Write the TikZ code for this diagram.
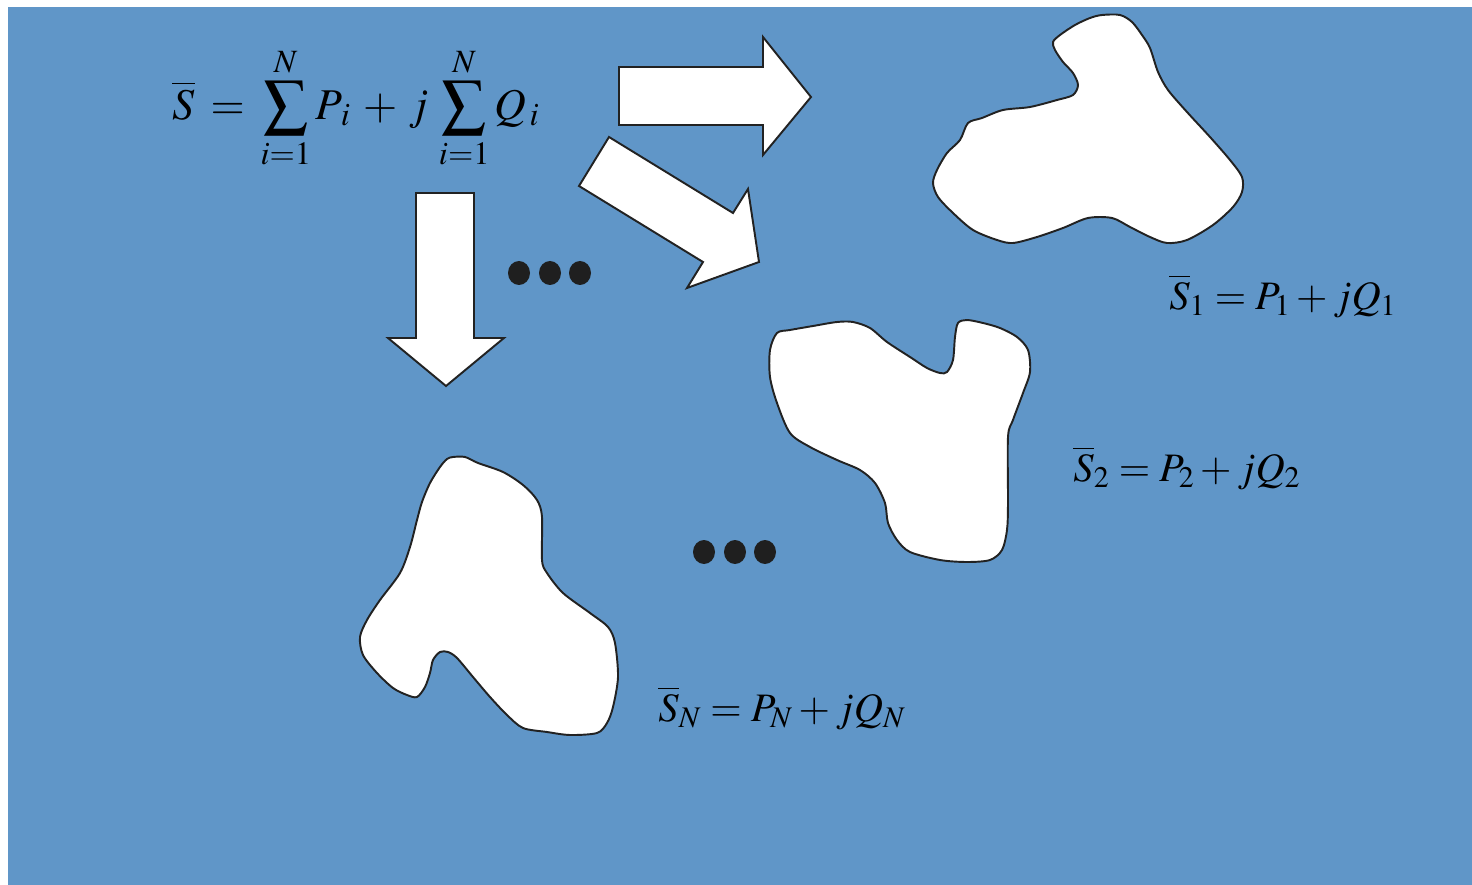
\documentclass[tikz,border=0pt]{standalone}
\usepackage{mathptmx}
\usepackage{tikz}
\usetikzlibrary{positioning}
\definecolor{slideblue}{HTML}{6096C8}
\definecolor{inkgray}{HTML}{222222}

\begin{document}
\begin{tikzpicture}[
  x=0.02cm, y=-0.02cm,
  region/.style={
    draw=inkgray,
    fill=white,
    line width=1.1pt,
    line join=round
  },
  bigarrow/.style={
    draw=inkgray,
    fill=white,
    line width=1.1pt,
    line join=miter
  },
  formula/.style={
    inner sep=0pt,
    font=\fontsize{25}{30}\selectfont
  },
  label/.style={
    inner sep=0pt,
    font=\fontsize{23}{27}\selectfont
  },
  dot/.style={
    fill=inkgray!90!black,
    x radius=11, y radius=12
  }
]

% frame and background
\useasboundingbox (0,0) rectangle (1472,885);
\fill[white] (0,0) rectangle (1472,885);
\fill[slideblue] (8,7) rectangle (1472,885);

% total power
\node[formula] (total) at (356,108)
  {$\displaystyle \overline{S} \:=\: \sum_{i=1}^{N} P_{\,i} \:+\: j\,\sum_{i=1}^{N} Q_{\,i}$};

% block arrows
\draw[bigarrow] (619,67) -- (763,67) -- (763,37) -- (811,97)
  -- (763,155) -- (763,125) -- (619,125) -- cycle;
\draw[bigarrow] (609,137) -- (733,213) -- (748,189) -- (759,262)
  -- (687,288) -- (703,262) -- (579,186) -- cycle;
\draw[bigarrow] (416,193) -- (474,193) -- (474,338) -- (504,338)
  -- (446,386) -- (388,338) -- (416,338) -- cycle;

% ellipsis dots
\foreach \dx in {519,550,580}
  \fill[dot] (\dx,273) ellipse [];
\foreach \dx in {704,735,765}
  \fill[dot] (\dx,552) ellipse [];

% region 1
\draw[region] plot[smooth cycle, tension=0.5] coordinates {
  (1102,15) (1120,15) (1132,22) (1142,35) (1150,48) (1158,72) (1168,90)
  (1187,112) (1210,137) (1230,160) (1242,177) (1242,192) (1233,207)
  (1213,225) (1187,240) (1167,243) (1150,237) (1130,227) (1112,218)
  (1088,218) (1063,228) (1037,237) (1013,243) (997,240) (973,230)
  (953,213) (938,197) (933,183) (937,170) (947,153) (960,140) (968,123)
  (982,118) (1003,110) (1030,107) (1057,100) (1073,95) (1078,85)
  (1073,73) (1063,62) (1055,50) (1053,42) (1060,35) (1075,25) (1090,18)};

% region 2
\draw[region] plot[smooth cycle, tension=0.5] coordinates {
  (777,333) (770,350) (770,377) (777,403) (790,433) (810,447) (837,460)
  (860,470) (875,483) (885,503) (888,523) (897,540) (910,552) (940,560)
  (967,562) (990,560) (1002,550) (1007,530) (1008,503) (1008,437)
  (1013,420) (1023,393) (1030,372) (1028,350) (1017,337) (1000,328)
  (983,323) (967,320) (958,323) (955,337) (953,360) (947,372) (940,373)
  (927,368) (910,357) (887,342) (870,328) (853,322) (837,322) (813,326)
  (790,330)};

% region N
\draw[region] plot[smooth cycle, tension=0.5] coordinates {
  (453,457) (465,457) (478,463) (503,472) (523,485) (537,500) (542,517)
  (542,560) (547,573) (563,593) (590,613) (608,627) (615,643) (618,677)
  (613,707) (607,723) (597,733) (570,735) (547,732) (523,728) (507,715)
  (490,697) (473,677) (457,658) (448,652) (440,652) (433,660) (430,673)
  (425,687) (417,697) (407,695) (393,688) (377,673) (363,655) (360,637)
  (367,620) (380,600) (400,573) (410,547) (417,520) (422,502) (430,483)
  (440,467) (447,459)};

% region powers
\node[label] (s1) at (1283,296) {$\overline{S}_1 = P_1 + jQ_1$};
\node[label] (s2) at (1187,468) {$\overline{S}_2 = P_2 + jQ_2$};
\node[label] (sn) at (782,708) {$\overline{S}_N = P_N + jQ_N$};

\end{tikzpicture}
\end{document}
